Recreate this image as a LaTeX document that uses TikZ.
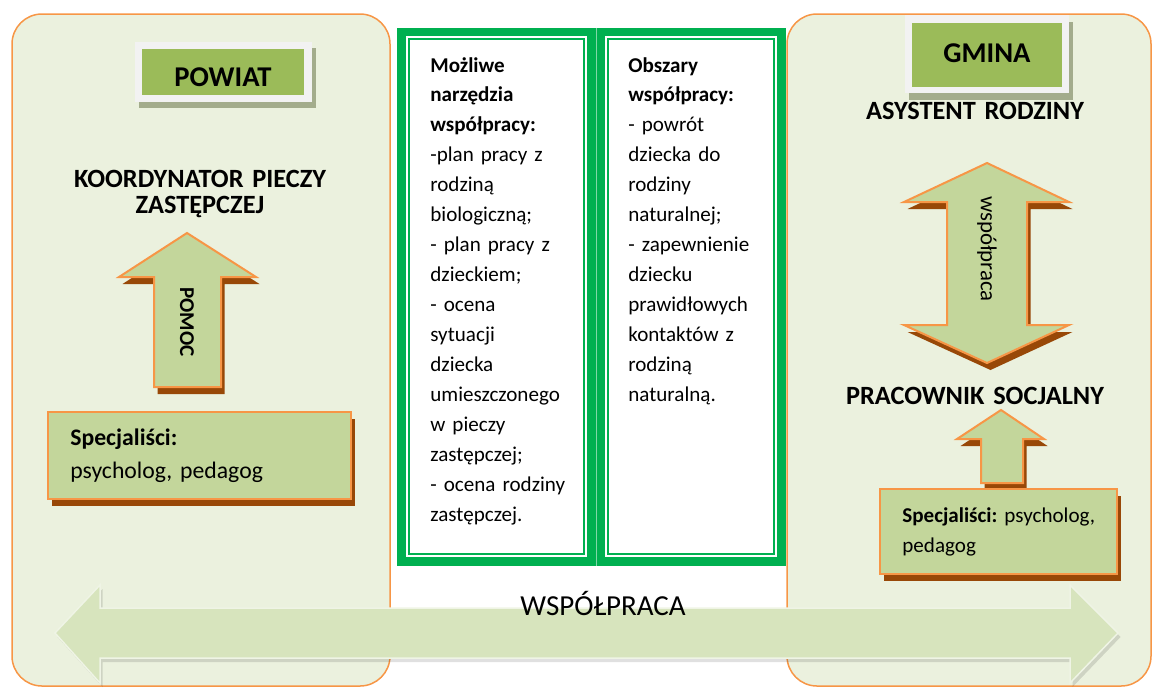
\documentclass[tikz,border=0pt]{standalone}
\usepackage{fontspec}
\setmainfont{Carlito}
\frenchspacing
\usetikzlibrary{shadows}
\definecolor{panelfill}{HTML}{EBF1DE}
\definecolor{edgeorange}{HTML}{F79646}
\definecolor{boxgreen}{HTML}{C3D69B}
\definecolor{headgreen}{HTML}{9BBB59}
\definecolor{framegray}{HTML}{F2F2F2}
\definecolor{headshadow}{HTML}{A3AC8C}
\definecolor{shadowbrown}{HTML}{984807}
\definecolor{framegreen}{HTML}{00B050}
\definecolor{bandgreen}{HTML}{D7E4BD}
\begin{document}
\begin{tikzpicture}[x=0.02cm, y=-0.02cm,
    panel/.style={fill=panelfill, draw=edgeorange, line width=0.03cm, rounded corners=0.6cm},
    raised/.style={fill=boxgreen, draw=edgeorange, line width=0.04cm,
        drop shadow={shadow xshift=0.07cm, shadow yshift=-0.14cm, fill=shadowbrown, opacity=1}},
    band/.style={fill=bandgreen, draw=white!60!bandgreen, line width=0.03cm,
        drop shadow={shadow xshift=0.05cm, shadow yshift=-0.08cm, fill=black, opacity=0.12}},
    headtext/.style={anchor=base, inner sep=0, font=\bfseries\fontsize{16.3}{19}\selectfont},
    roletext/.style={anchor=base, inner sep=0, text width=6cm, execute at begin node=\centering,
        font=\bfseries\fontsize{15}{14.8}\selectfont},
    coltext/.style={anchor=base west, inner sep=0, text width=3.4cm, font=\fontsize{12}{17.07}\selectfont},
    spectext/.style={anchor=base west, inner sep=0, text width=5.6cm}]
    \useasboundingbox (0,0) rectangle (1152,687);
    % side panels
    \draw[panel] (12,14) rectangle (390,686);
    \draw[panel] (787,14) rectangle (1151,686);
    % middle frame
    \fill[framegreen] (397,28) rectangle (786,566);
    \foreach \l/\r in {397/596, 596/786} {
        \fill[white] (\l+9,36) rectangle (\r-9,557);
        \draw[framegreen, line width=0.04cm] (\l+12,39) rectangle (\r-12,554);
    }
    \draw[framegreen!50!white, line width=0.02cm] (596,28) -- (596,566);
    \node[coltext] (tools) at (430,72) {\textbf{Możliwe}\\\textbf{narzędzia}\\\textbf{współpracy:}\\-plan pracy z\\rodziną\\biologiczną;\\- plan pracy z\\dzieckiem;\\- ocena\\sytuacji\\dziecka\\umieszczonego\\w pieczy\\zastępczej;\\- ocena rodziny\\zastępczej.};
    \node[coltext] (areas) at (628,72) {\textbf{Obszary}\\\textbf{współpracy:}\\- powrót\\dziecka do\\rodziny\\naturalnej;\\- zapewnienie\\dziecku\\prawidłowych\\kontaktów z\\rodziną\\naturalną.};
    % powiat
    \fill[headshadow] (139,48) rectangle (316,108);
    \fill[framegray] (135,42) rectangle (312,102);
    \fill[headgreen] (142,49) rectangle (304,95);
    \node[headtext] (powiat) at (223,86) {POWIAT};
    \node[roletext] (koordynator) at (200,187) {KOORDYNATOR PIECZY\\ZASTĘPCZEJ};
    \draw[raised] (187,233) -- (256,277) -- (221,277) -- (221,387) -- (154,387)
        -- (154,277) -- (119,277) -- cycle;
    \node[rotate=-90, font=\bfseries\fontsize{12}{14}\selectfont] (pomoc) at (187,322) {POMOC};
    \draw[raised] (48,412) rectangle (351,499);
    \node[spectext, font=\fontsize{13.5}{18.8}\selectfont] (powiatspec) at (70,445) {\textbf{Specjaliści:}\\psycholog, pedagog};
    % gmina
    \fill[headshadow] (909,22) rectangle (1073,100);
    \fill[framegray] (905,15) rectangle (1069,93);
    \fill[headgreen] (912,23) rectangle (1062,87);
    \node[headtext] (gmina) at (987,62) {GMINA};
    \node[roletext] (asystent) at (975,119) {ASYSTENT RODZINY};
    \draw[raised] (987,163) -- (1069,202) -- (1027,202) -- (1027,325) -- (1069,325)
        -- (987,363) -- (904,325) -- (947,325) -- (947,202) -- (904,202) -- cycle;
    \node[rotate=-90, font=\fontsize{13}{15}\selectfont] (wspolpraca) at (987,249) {współpraca};
    \node[roletext] (pracownik) at (975,404) {PRACOWNIK SOCJALNY};
    \draw[raised] (1001,410) -- (1044,439) -- (1023,439) -- (1023,483) -- (981,483)
        -- (981,439) -- (957,439) -- cycle;
    \draw[raised] (880,489) rectangle (1117,574);
    \node[spectext, font=\fontsize{12}{17.6}\selectfont] (gminaspec) at (902,522) {\textbf{Specjaliści:} psycholog,\\pedagog};
    % cooperation band
    \draw[band] (55,633) -- (100,585) -- (100,608) -- (1070,608) -- (1070,585) -- (1118,633)
        -- (1070,683) -- (1070,658) -- (100,658) -- (100,683) -- cycle;
    \node[anchor=base, inner sep=0, font=\fontsize{16.5}{19}\selectfont] (razem) at (603,615) {WSPÓŁPRACA};
\end{tikzpicture}
\end{document}
